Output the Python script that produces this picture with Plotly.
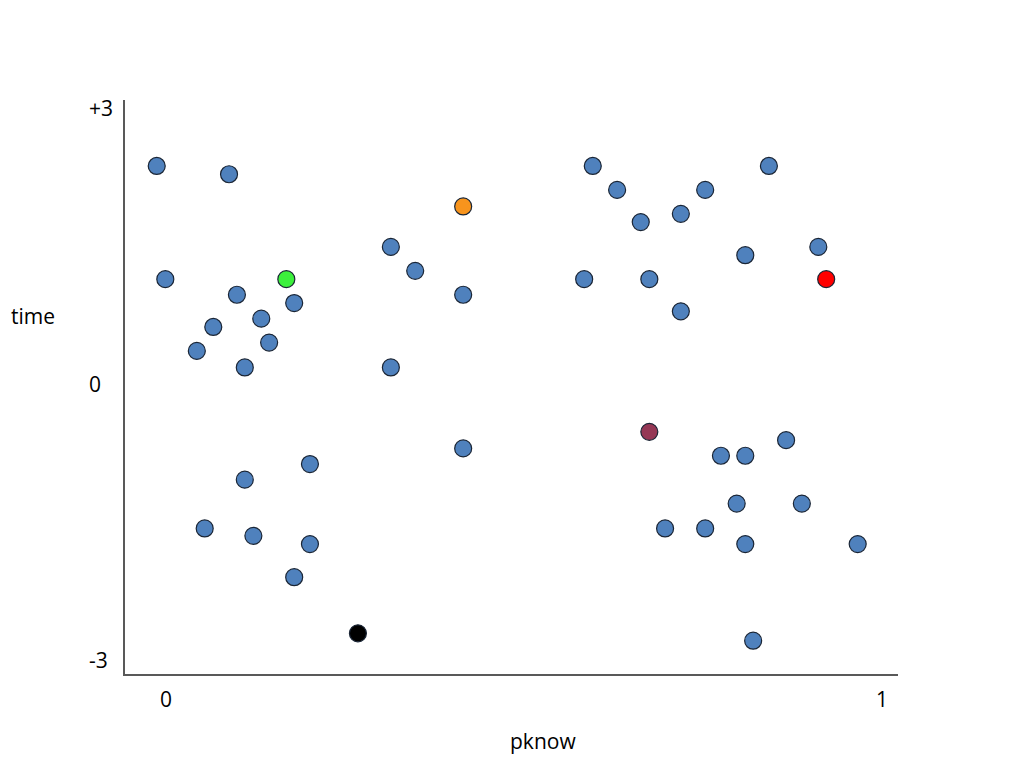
import plotly.graph_objects as go

# Data
blue_x = [-0.013, 0.088, -0.001, 0.099, 0.179, 0.066, 0.133, 0.043, 0.144, 0.110,
          0.314, 0.348, 0.415, 0.314, 0.415,
          0.201, 0.110, 0.054, 0.122, 0.201, 0.179,
          0.596, 0.630, 0.663, 0.719, 0.753, 0.842, 0.809, 0.911, 0.584, 0.675, 0.719,
          0.866, 0.775, 0.809, 0.797, 0.888, 0.697, 0.753, 0.809, 0.966, 0.820]
blue_y = [2.37, 2.28, 1.14, 0.97, 0.88, 0.62, 0.71, 0.36, 0.45, 0.18,
          1.49, 1.23, 0.97, 0.18, -0.70,
          -0.87, -1.04, -1.57, -1.65, -1.74, -2.10,
          2.37, 2.11, 1.76, 1.85, 2.11, 2.37, 1.40, 1.49, 1.14, 1.14, 0.79,
          -0.61, -0.78, -0.78, -1.30, -1.30, -1.57, -1.57, -1.74, -1.74, -2.79]

special_x = [0.168, 0.415, 0.922, 0.675, 0.268]
special_y = [1.14, 1.93, 1.14, -0.52, -2.71]
special_colors = ["#3CF03C", "#F7941D", "#FF0000", "#953755", "#000000"]

x_tick_vals = [0, 1]
x_tick_text = ["0", "1"]
y_tick_vals = [-3, 0, 3]
y_tick_text = ["-3", "0", "+3"]

x_title = "pknow"
y_title = "time"

FONT = "Open Sans"

fig = go.Figure()
fig.add_trace(go.Scatter(
    x=blue_x, y=blue_y, mode="markers",
    marker=dict(size=17, color="#4F81BD", line=dict(color="#1A2535", width=1.2)),
    showlegend=False, hoverinfo="skip"))
fig.add_trace(go.Scatter(
    x=special_x, y=special_y, mode="markers",
    marker=dict(size=17, color=special_colors, line=dict(color="#1A2535", width=1.2)),
    showlegend=False, hoverinfo="skip"))

# y tick labels are left-aligned in the reference -> annotations at the tick values
y_tick_annots = [
    dict(text=t, xref="paper", yref="y", x=-0.049, y=v, showarrow=False,
         xanchor="left", yanchor="middle")
    for v, t in zip(y_tick_vals, y_tick_text)
]

fig.update_layout(
    width=1024, height=768,
    margin=dict(l=117, r=134, t=92, b=102),
    paper_bgcolor="white", plot_bgcolor="white",
    font=dict(family=FONT, size=21, color="#000000"),
    xaxis=dict(range=[-0.0573, 1.0223], showgrid=False, zeroline=False,
               showline=True, linecolor="#595959", linewidth=1.5,
               tickvals=x_tick_vals, ticktext=x_tick_text,
               ticks="outside", ticklen=6, tickcolor="rgba(0,0,0,0)"),
    yaxis=dict(range=[-3.152, 3.087], showgrid=False, zeroline=False,
               showline=True, linecolor="#595959", linewidth=1.5,
               tickvals=y_tick_vals, showticklabels=False, ticks=""),
    annotations=y_tick_annots + [
        dict(text=y_title, xref="paper", yref="paper", x=-0.119, y=0.624,
             showarrow=False, xanchor="center", yanchor="middle"),
        dict(text=x_title, xref="paper", yref="paper", x=0.541, y=-0.117,
             showarrow=False, xanchor="center", yanchor="middle"),
    ],
)

fig.write_html("out.html")
